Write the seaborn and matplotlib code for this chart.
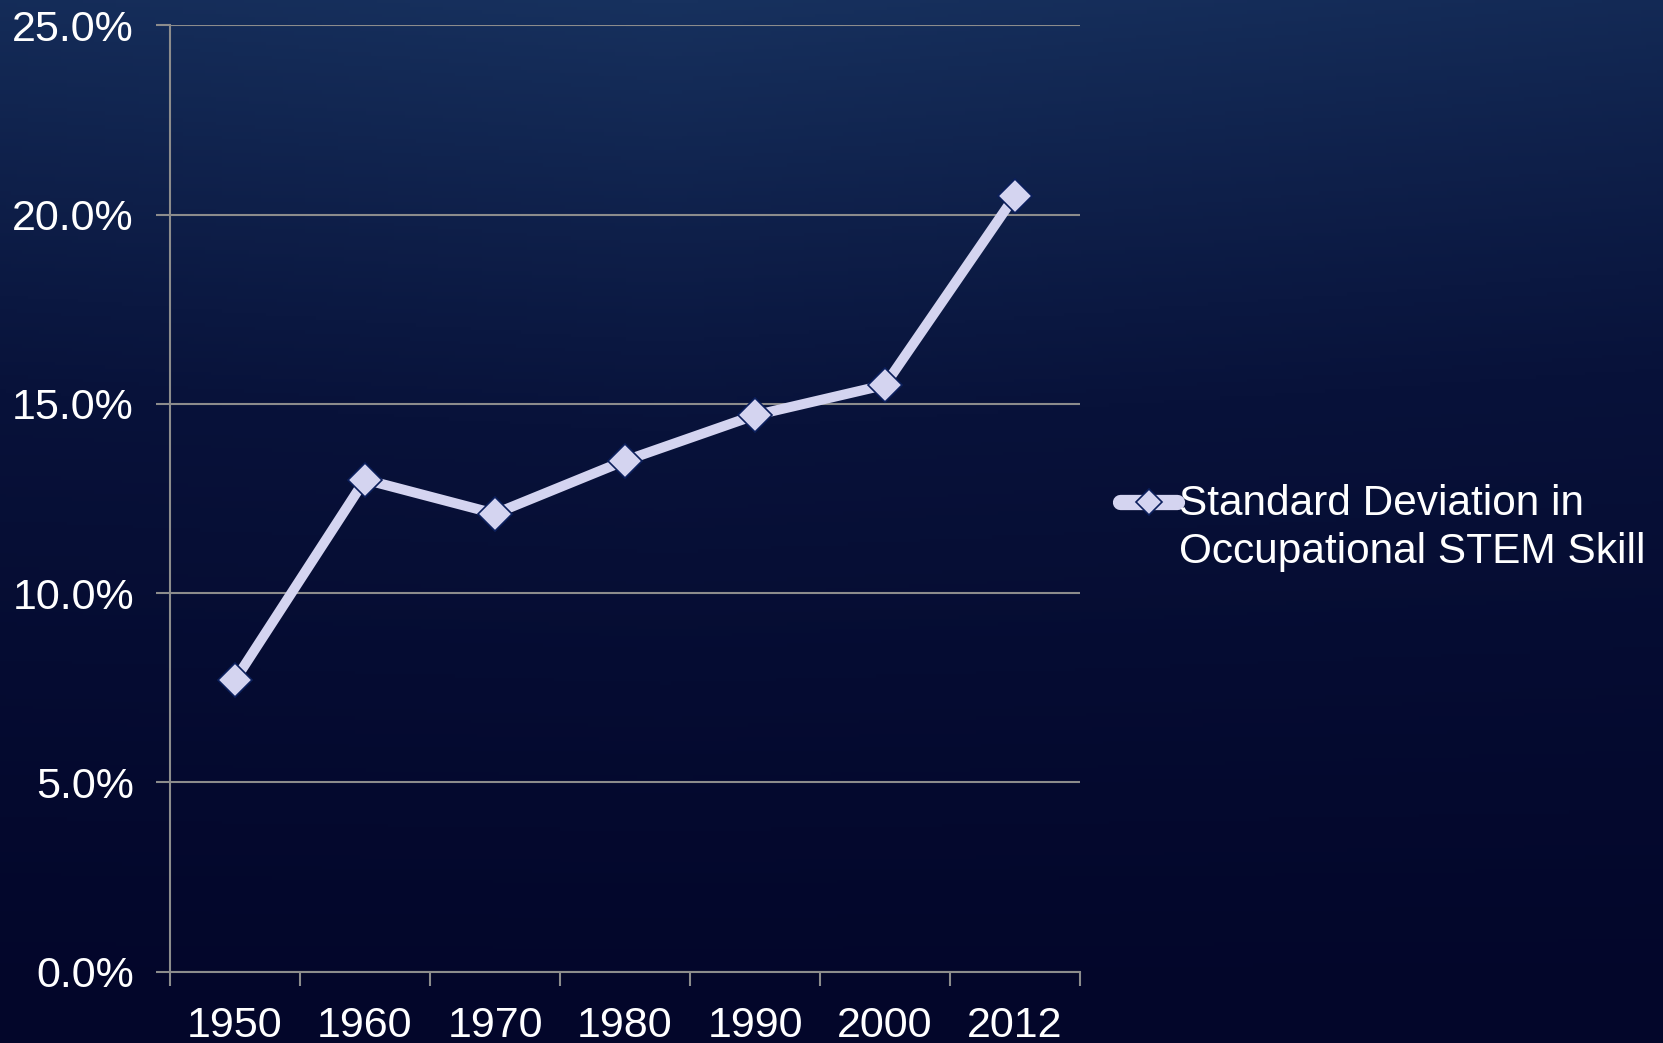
import numpy as np
import pandas as pd
import matplotlib
matplotlib.use("Agg")
import matplotlib.pyplot as plt
import seaborn as sns
from matplotlib.colors import LinearSegmentedColormap
from matplotlib.legend_handler import HandlerLine2D

years = ["1950", "1960", "1970", "1980", "1990", "2000", "2012"]
std_dev = [7.7, 13.0, 12.1, 13.5, 14.7, 15.5, 20.5]
y_ticks = [0, 5, 10, 15, 20, 25]
series_name = "Standard Deviation in\nOccupational STEM Skill"

sns.set_style("white")
plt.rcParams["font.family"] = ["Liberation Sans", "DejaVu Sans"]

df = pd.DataFrame({"Year": years, "Value": std_dev})


# legend handle sits next to the first line of the label, not in the middle
class FirstLineHandler(HandlerLine2D):
    def create_artists(self, legend, orig_handle, xdescent, ydescent, width, height, fontsize, trans):
        arts = super().create_artists(legend, orig_handle, xdescent, ydescent,
                                      width, height, fontsize, trans)
        for a in arts:
            a.set_ydata(np.asarray(a.get_ydata()) + 19)
        return arts


fig = plt.figure(figsize=(16.63, 10.43), dpi=100)

# background gradient (lighter navy at top, almost black-blue at bottom)
bg = fig.add_axes([0, 0, 1, 1], zorder=-10)
cmap = LinearSegmentedColormap.from_list("bg", ["#03062a", "#08123a", "#17315e"])
yy = np.linspace(0, 1, 300)[:, None]
xx = np.linspace(0, 1, 300)[None, :]
grad = yy ** 1.3 * (1 - 0.2 * np.abs(xx - 0.4))
bg.imshow(grad, cmap=cmap, aspect="auto", origin="lower", extent=[0, 1, 0, 1], vmin=0, vmax=1)
bg.axis("off")

ax = fig.add_axes([170 / 1663, 1 - 971.5 / 1043, (1080 - 170) / 1663, (971.5 - 25.5) / 1043])
ax.patch.set_alpha(0)

sns.lineplot(data=df, x="Year", y="Value", ax=ax, color="#d4d4f0", linewidth=7.2,
             marker="D", markersize=17, markerfacecolor="#d4d4f0",
             markeredgecolor="#0b1f5c", markeredgewidth=1.2,
             solid_capstyle="round", legend=False)

ax.set_xlim(-0.5, len(years) - 0.5)
ax.set_ylim(0, 25)
ax.set_yticks(y_ticks)
ax.set_yticklabels([f"{v:.1f}%" for v in y_ticks])
ax.yaxis.grid(True, color="#8c8c8c", linewidth=1.5)
ax.set_axisbelow(True)

ax.set_xticks(np.arange(-0.5, len(years), 1.0))
ax.set_xticklabels([])
ax.set_xticks(np.arange(len(years)), minor=True)
ax.set_xticklabels(years, minor=True)
ax.tick_params(axis="x", which="major", bottom=True, length=10, width=1.5,
               color="#8c8c8c", direction="out")
ax.tick_params(axis="x", which="minor", bottom=True, length=0, pad=25,
               labelsize=31, labelcolor="white")
ax.tick_params(axis="y", left=True, length=10, width=1.5, color="#8c8c8c",
               direction="out", pad=16, labelsize=31, labelcolor="white")

for side in ["top", "right"]:
    ax.spines[side].set_visible(False)
for side in ["left", "bottom"]:
    ax.spines[side].set_color("#8c8c8c")
    ax.spines[side].set_linewidth(1.5)

ax.set_xlabel("")
ax.set_ylabel("")

handle = plt.Line2D([], [], color="#d4d4f0", linewidth=11, solid_capstyle="round",
                    marker="D", markersize=13, markerfacecolor="#d4d4f0",
                    markeredgecolor="#0b1f5c", markeredgewidth=1.2)
leg = fig.legend([handle], [series_name], loc="upper left",
                 bbox_to_anchor=(1120 / 1663, 1 - 484 / 1043), frameon=False,
                 fontsize=30.5, labelcolor="white", handlelength=1.35, handletextpad=0.05,
                 borderaxespad=0, borderpad=0,
                 handler_map={plt.Line2D: FirstLineHandler()})
for t in leg.get_texts():
    t.set_linespacing(1.25)

fig.savefig("out.png", dpi=100)
